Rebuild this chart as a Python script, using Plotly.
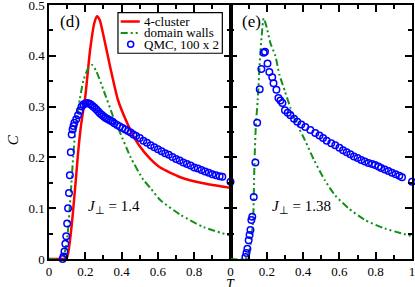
import plotly.graph_objects as go

# ---- panel (d): J_perp = 1.4 ----
T_cl_d = [0, 0.06, 0.08, 0.1, 0.12, 0.133, 0.15, 0.16, 0.176, 0.2, 0.226, 0.25, 0.265, 0.28, 0.3,
          0.337, 0.38, 0.43, 0.465, 0.5, 0.558, 0.613, 0.724, 0.85, 1.0]
C_cl_d = [0, 0, 0.0, 0.004, 0.05, 0.096, 0.165, 0.208, 0.262, 0.32, 0.41, 0.465, 0.478, 0.47, 0.44,
          0.378, 0.313, 0.268, 0.242, 0.222, 0.197, 0.18, 0.161, 0.149, 0.14]

T_dw_d = [0, 0.06, 0.08, 0.1, 0.12, 0.133, 0.15, 0.17, 0.19, 0.215, 0.237, 0.26, 0.3, 0.354, 0.39,
          0.45, 0.52, 0.558, 0.613, 0.724, 0.85, 1.0]
C_dw_d = [0, 0, 0.005, 0.04, 0.13, 0.2, 0.27, 0.315, 0.352, 0.375, 0.382, 0.37, 0.333, 0.28, 0.25,
          0.2, 0.156, 0.14, 0.116, 0.087, 0.063, 0.046]

T_qmc_d = [0.075, 0.08, 0.085, 0.09, 0.095, 0.1, 0.105, 0.11, 0.115, 0.12, 0.125, 0.13, 0.135, 0.14,
           0.15, 0.16, 0.17, 0.18, 0.19, 0.2, 0.21, 0.22, 0.23, 0.24, 0.25, 0.26, 0.27, 0.28, 0.29,
           0.30, 0.31, 0.32, 0.33, 0.34, 0.35, 0.36, 0.375, 0.39, 0.405, 0.42, 0.435, 0.45, 0.465,
           0.48, 0.5, 0.52, 0.54, 0.56, 0.58, 0.6, 0.62, 0.64, 0.66, 0.68, 0.70, 0.72, 0.74, 0.76,
           0.78, 0.80, 0.82, 0.84, 0.86, 0.88, 0.90, 0.92, 0.94, 0.955, 1.0]
C_qmc_d = [0.0, 0.005, 0.015, 0.03, 0.045, 0.07, 0.1, 0.13, 0.165, 0.21, 0.245, 0.255, 0.262, 0.268,
           0.275, 0.283, 0.292, 0.3, 0.304, 0.306, 0.307, 0.306, 0.304, 0.301, 0.298, 0.295, 0.291,
           0.287, 0.284, 0.281, 0.278, 0.276, 0.274, 0.272, 0.27, 0.267, 0.264, 0.261, 0.258, 0.255,
           0.252, 0.249, 0.245, 0.242, 0.238, 0.233, 0.229, 0.224, 0.22, 0.216, 0.212, 0.208, 0.205,
           0.201, 0.197, 0.194, 0.19, 0.187, 0.184, 0.18, 0.178, 0.175, 0.172, 0.17, 0.167, 0.165,
           0.163, 0.162, 0.152]

# ---- panel (e): J_perp = 1.38 ----
T_dw_e = [0, 0.08, 0.1, 0.115, 0.125, 0.132, 0.14, 0.15, 0.161, 0.172, 0.183, 0.2, 0.22, 0.247,
          0.27, 0.3, 0.33, 0.36, 0.41, 0.46, 0.52, 0.577, 0.65, 0.74, 0.85, 1.0]
C_dw_e = [0, 0, 0.01, 0.04, 0.08, 0.19, 0.265, 0.313, 0.385, 0.44, 0.474, 0.455, 0.425, 0.4,
          0.362, 0.33, 0.298, 0.27, 0.234, 0.195, 0.155, 0.125, 0.1, 0.077, 0.06, 0.045]

T_qmc_e = [0.082, 0.088, 0.093, 0.1, 0.105, 0.11, 0.115, 0.12, 0.128, 0.137, 0.147, 0.161, 0.17,
           0.183, 0.19, 0.204, 0.214, 0.23, 0.237, 0.253, 0.264, 0.275, 0.286, 0.3, 0.315, 0.33,
           0.35, 0.368, 0.39, 0.412, 0.44, 0.467, 0.49, 0.51, 0.53, 0.555, 0.577, 0.6, 0.62, 0.64,
           0.66, 0.68, 0.7, 0.72, 0.74, 0.76, 0.78, 0.797, 0.815, 0.83, 0.85, 0.87, 0.89, 0.91,
           0.93, 0.945, 1.0]
C_qmc_e = [0.004, 0.012, 0.02, 0.037, 0.047, 0.057, 0.077, 0.083, 0.122, 0.19, 0.268, 0.334,
           0.374, 0.406, 0.408, 0.385, 0.368, 0.358, 0.346, 0.333, 0.317, 0.312, 0.307, 0.293,
           0.288, 0.283, 0.276, 0.27, 0.265, 0.26, 0.254, 0.248, 0.243, 0.238, 0.233, 0.228,
           0.224, 0.219, 0.214, 0.21, 0.206, 0.202, 0.199, 0.195, 0.192, 0.189, 0.187, 0.185,
           0.182, 0.179, 0.176, 0.173, 0.17, 0.167, 0.164, 0.161, 0.152]

x_ticks_d = [0, 0.2, 0.4, 0.6, 0.8, 1.0]
x_text_d = ["0", "0.2", "0.4", "0.6", "0.8", ""]
x_ticks_e = [0, 0.2, 0.4, 0.6, 0.8, 1.0]
x_text_e = ["0", "0.2", "0.4", "0.6", "0.8", "1"]
y_ticks = [0, 0.1, 0.2, 0.3, 0.4, 0.5]
y_text = ["0", "0.1", "0.2", "0.3", "0.4", "0.5"]

legend_names = ["4-cluster", "domain walls", "QMC, 100 x 2"]

RED = "#ff0000"
GREEN = "#13901a"
BLUE = "#0000ff"
DASH = "7px,3px,2px,3px,2px,3px"
FONT = "Liberation Serif"

fig = go.Figure()
fig.add_trace(go.Scatter(x=T_cl_d, y=C_cl_d, mode="lines", line=dict(color=RED, width=2.5, shape="spline", smoothing=0.6),
                         xaxis="x", yaxis="y", showlegend=False))
fig.add_trace(go.Scatter(x=T_dw_d, y=C_dw_d, mode="lines", line=dict(color=GREEN, width=2, dash=DASH, shape="spline", smoothing=0.6),
                         xaxis="x", yaxis="y", showlegend=False))
fig.add_trace(go.Scatter(x=T_qmc_d, y=C_qmc_d, mode="markers",
                         marker=dict(symbol="circle-open", size=6.5, color=BLUE, line=dict(width=1.5, color=BLUE)),
                         xaxis="x", yaxis="y", showlegend=False, cliponaxis=False))
fig.add_trace(go.Scatter(x=T_dw_e, y=C_dw_e, mode="lines", line=dict(color=GREEN, width=2, dash=DASH, shape="spline", smoothing=0.6),
                         xaxis="x2", yaxis="y2", showlegend=False))
fig.add_trace(go.Scatter(x=T_qmc_e, y=C_qmc_e, mode="markers",
                         marker=dict(symbol="circle-open", size=6.5, color=BLUE, line=dict(width=1.5, color=BLUE)),
                         xaxis="x2", yaxis="y2", showlegend=False, cliponaxis=False))

axis_common = dict(showline=True, linecolor="black", linewidth=1.5, mirror="ticks", ticks="inside",
                   ticklen=7, tickwidth=1.5, tickcolor="black", showgrid=False, zeroline=False,
                   ticklabeloverflow="allow",
                   tickfont=dict(family=FONT, size=13, color="black"))
minor_x = dict(ticks="inside", dtick=0.1, ticklen=4, tickwidth=1.5, tickcolor="black")
minor_y = dict(ticks="inside", dtick=0.05, ticklen=4, tickwidth=1.5, tickcolor="black")
fig.update_layout(
    width=415, height=287, margin=dict(l=49, r=3, t=5, b=28, autoexpand=False),
    paper_bgcolor="white", plot_bgcolor="white",
    font=dict(family=FONT, color="black"),
    xaxis=dict(domain=[0, 0.5], range=[0, 1], tickvals=x_ticks_d, ticktext=x_text_d, anchor="y",
               minor=minor_x, **axis_common),
    yaxis=dict(domain=[0, 1], range=[0, 0.5], tickvals=y_ticks, ticktext=y_text, anchor="x",
               minor=minor_y, **axis_common),
    xaxis2=dict(domain=[0.5, 1], range=[0, 1], tickvals=x_ticks_e, ticktext=x_text_e, anchor="y2",
                minor=minor_x, **axis_common),
    yaxis2=dict(domain=[0, 1], range=[0, 0.5], tickvals=y_ticks, showticklabels=False, anchor="x2",
                minor=minor_y, **axis_common),
)

ann = [
    dict(text="(d)", x=0.05, y=0.98, xref="x domain", yref="y domain", xanchor="left", yanchor="top",
         showarrow=False, font=dict(size=17, family=FONT)),
    dict(text="(e)", x=0.05, y=0.98, xref="x2 domain", yref="y2 domain", xanchor="left", yanchor="top",
         showarrow=False, font=dict(size=17, family=FONT)),
    dict(text="<i>J</i><sub>⊥</sub> = 1.4", x=0.36, y=0.16, xref="x domain", yref="y domain",
         showarrow=False, font=dict(size=15, family=FONT)),
    dict(text="<i>J</i><sub>⊥</sub> = 1.38", x=0.39, y=0.16, xref="x2 domain", yref="y2 domain",
         showarrow=False, font=dict(size=15, family=FONT)),
    dict(text="<i>C</i>", x=-0.1, y=0.47, xref="paper", yref="paper", xanchor="center", showarrow=False,
         font=dict(size=15, family=FONT), textangle=-90),
    dict(text="<i>T</i>", x=0.5, y=-0.102, xref="paper", yref="paper", yanchor="middle", showarrow=False,
         font=dict(size=14, family=FONT)),
]

# manual legend (box at upper right of panel d)
lx0, lx1 = 0.38, 0.955
ly0, ly1 = 0.81, 0.97
rows = [0.935, 0.89, 0.845]
shapes = [dict(type="rect", xref="x domain", yref="y domain", x0=lx0, x1=lx1, y0=ly0, y1=ly1,
               line=dict(color="black", width=1.2), fillcolor="white", layer="above")]
shapes.append(dict(type="line", xref="x domain", yref="y domain", x0=0.395, x1=0.5, y0=rows[0], y1=rows[0],
                   line=dict(color=RED, width=2.5), layer="above"))
shapes.append(dict(type="line", xref="x domain", yref="y domain", x0=0.395, x1=0.5, y0=rows[1], y1=rows[1],
                   line=dict(color=GREEN, width=2, dash=DASH), layer="above"))
shapes.append(dict(type="circle", xref="x domain", yref="y domain", xsizemode="pixel", ysizemode="pixel",
                   xanchor=0.45, yanchor=rows[2], x0=-3, x1=3, y0=-3, y1=3,
                   line=dict(color=BLUE, width=1.5), layer="above"))
for name, r in zip(legend_names, rows):
    ann.append(dict(text=name, x=0.515, y=r, xref="x domain", yref="y domain", xanchor="left",
                    yanchor="middle", showarrow=False, font=dict(size=13, family=FONT)))

fig.update_layout(annotations=ann, shapes=shapes)
fig.write_html("out.html", config={"displayModeBar": False},
               post_script="document.body.style.margin='0px';document.body.style.padding='0px';")
